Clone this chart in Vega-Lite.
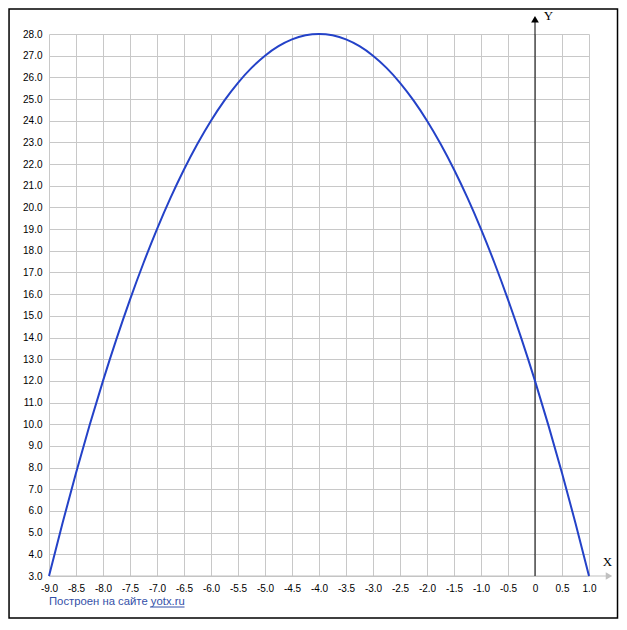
{
  "$schema": "https://vega.github.io/schema/vega-lite/v6.json",
  "width": 540,
  "height": 542,
  "autosize": {"type": "none"},
  "padding": {"left": 49, "top": 34, "right": 38, "bottom": 54},
  "background": "white",
  "view": {"stroke": null},
  "config": {
    "axis": {"labelFont": "Liberation Sans", "labelFontSize": 10, "labelColor": "#000000", "ticks": false, "title": null,
      "gridColor": "#c8c8c8", "gridOpacity": 1, "labelOverlap": false, "labelFlush": false, "labelBound": false, "tickCount": 100}
  },
  "datasets": {
    "curve": [
      {"x": -9, "y": 3}, {"x": -8.75, "y": 5.4375}, {"x": -8.5, "y": 7.75}, {"x": -8.25, "y": 9.9375},
      {"x": -8, "y": 12}, {"x": -7.75, "y": 13.9375}, {"x": -7.5, "y": 15.75}, {"x": -7.25, "y": 17.4375},
      {"x": -7, "y": 19}, {"x": -6.75, "y": 20.4375}, {"x": -6.5, "y": 21.75}, {"x": -6.25, "y": 22.9375},
      {"x": -6, "y": 24}, {"x": -5.75, "y": 24.9375}, {"x": -5.5, "y": 25.75}, {"x": -5.25, "y": 26.4375},
      {"x": -5, "y": 27}, {"x": -4.75, "y": 27.4375}, {"x": -4.5, "y": 27.75}, {"x": -4.25, "y": 27.9375},
      {"x": -4, "y": 28}, {"x": -3.75, "y": 27.9375}, {"x": -3.5, "y": 27.75}, {"x": -3.25, "y": 27.4375},
      {"x": -3, "y": 27}, {"x": -2.75, "y": 26.4375}, {"x": -2.5, "y": 25.75}, {"x": -2.25, "y": 24.9375},
      {"x": -2, "y": 24}, {"x": -1.75, "y": 22.9375}, {"x": -1.5, "y": 21.75}, {"x": -1.25, "y": 20.4375},
      {"x": -1, "y": 19}, {"x": -0.75, "y": 17.4375}, {"x": -0.5, "y": 15.75}, {"x": -0.25, "y": 13.9375},
      {"x": 0, "y": 12}, {"x": 0.25, "y": 9.9375}, {"x": 0.5, "y": 7.75}, {"x": 0.75, "y": 5.4375},
      {"x": 1, "y": 3}
    ],
    "one": [{}]
  },
  "layer": [
    {
      "data": {"name": "one"},
      "mark": {"type": "rect", "fill": null, "stroke": "#000000", "strokeWidth": 1.5, "clip": false},
      "encoding": {
        "x": {"datum": -9.74, "type": "quantitative", "scale": {"domain": [-9, 1], "nice": false, "zero": false},
          "axis": {"values": [-9, -8.5, -8, -7.5, -7, -6.5, -6, -5.5, -5, -4.5, -4, -3.5, -3, -2.5, -2, -1.5, -1, -0.5, 0, 0.5, 1],
            "labelExpr": "datum.value == 0 ? '0' : replace(format(datum.value, '.1f'), '−', '-')", "labelPadding": 7, "grid": true, "domain": false, "tickCount": 100}},
        "x2": {"datum": 1.528},
        "y": {"datum": 1.063, "type": "quantitative", "scale": {"domain": [3, 28], "nice": false, "zero": false},
          "axis": {"values": [3, 4, 5, 6, 7, 8, 9, 10, 11, 12, 13, 14, 15, 16, 17, 18, 19, 20, 21, 22, 23, 24, 25, 26, 27, 28],
            "format": ".1f", "labelPadding": 7, "grid": true, "domain": false, "tickCount": 100}},
        "y2": {"datum": 29.15}
      }
    },
    {
      "data": {"name": "one"},
      "mark": {"type": "rule", "color": "#c0c0c0", "strokeWidth": 1, "clip": false},
      "encoding": {"x": {"datum": -9}, "x2": {"datum": 1.38}, "y": {"datum": 3}}
    },
    {
      "data": {"name": "one"},
      "mark": {"type": "point", "shape": "triangle-right", "filled": true, "color": "#c0c0c0", "size": 55, "opacity": 1, "clip": false},
      "encoding": {"x": {"datum": 1.37}, "y": {"datum": 3}}
    },
    {
      "data": {"name": "one"},
      "mark": {"type": "rule", "color": "#000000", "strokeWidth": 1, "clip": false},
      "encoding": {"x": {"datum": 0}, "y": {"datum": 3}, "y2": {"datum": 28.6}}
    },
    {
      "data": {"name": "one"},
      "mark": {"type": "point", "shape": "triangle-up", "filled": true, "color": "#000000", "size": 60, "opacity": 1, "clip": false},
      "encoding": {"x": {"datum": 0}, "y": {"datum": 28.68}}
    },
    {
      "data": {"name": "one"},
      "mark": {"type": "text", "text": "Y", "font": "Liberation Serif", "fontSize": 13, "color": "#000000", "align": "center", "baseline": "middle", "clip": false},
      "encoding": {"x": {"datum": 0.25}, "y": {"datum": 28.85}}
    },
    {
      "data": {"name": "one"},
      "mark": {"type": "text", "text": "X", "font": "Liberation Serif", "fontSize": 13, "color": "#000000", "align": "center", "baseline": "middle", "clip": false},
      "encoding": {"x": {"datum": 1.34}, "y": {"datum": 3.65}}
    },
    {
      "data": {"name": "curve"},
      "mark": {"type": "line", "color": "#2442c8", "strokeWidth": 2, "interpolate": "monotone", "clip": false},
      "encoding": {"x": {"field": "x", "type": "quantitative"}, "y": {"field": "y", "type": "quantitative"}}
    },
    {
      "data": {"name": "one"},
      "mark": {"type": "text", "text": "Построен на сайте yotx.ru", "font": "Liberation Sans", "fontSize": 11.3, "color": "#3350a8", "align": "left", "baseline": "middle", "clip": false},
      "encoding": {"x": {"datum": -9}, "y": {"datum": 1.8}}
    },
    {
      "data": {"name": "one"},
      "mark": {"type": "rule", "color": "#3350a8", "strokeWidth": 1, "clip": false},
      "encoding": {"x": {"datum": -7.13}, "x2": {"datum": -6.49}, "y": {"datum": 1.57}}
    }
  ]
}
